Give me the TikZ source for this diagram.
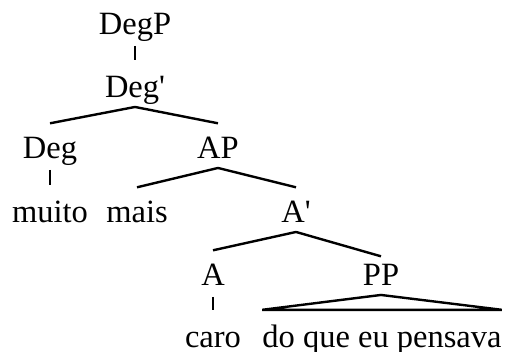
\documentclass[tikz,border=0pt]{standalone}
\usepackage{fontspec}
\setmainfont{Liberation Serif}
\begin{document}
\begin{tikzpicture}[
    x=1pt, y=-1pt,
    cat/.style={
        inner xsep=0pt,
        inner ysep=2pt,
        text height=32.5pt,
        text depth=7.75pt,
        anchor=base,
        font=\fontsize{32.5}{38}\selectfont
    },
    branch/.style={
        line width=2.4pt,
        black
    },
    unary/.style={
        line width=1.5pt,
        shorten <=2pt,
        shorten >=2pt
    }
]
\useasboundingbox (0,0) rectangle (505,351);

% Categories
\node[cat] (degp) at (135,34) {DegP};
\node[cat] (degbar) at (135,97) {Deg\textquotesingle};
\node[cat] (deg) at (50,158) {Deg};
\node[cat] (ap) at (218,158) {AP};
\node[cat] (abar) at (296,222) {A\textquotesingle};
\node[cat] (a) at (213,285) {A};
\node[cat] (pp) at (381,285) {PP};

% Words
\node[cat] (muito) at (50,222) {muito};
\node[cat] (mais) at (137,222) {mais};
\node[cat] (caro) at (213,347) {caro};
\node[cat] (rest) at (382,347) {do que eu pensava};

% Branches
\draw[unary] (degp.south) -- (degbar.north);
\draw[branch] (degbar.south) -- (deg.north);
\draw[branch] (degbar.south) -- (ap.north);
\draw[unary] (deg.south) -- (muito.north);
\draw[branch] (ap.south) -- (mais.north);
\draw[branch] (ap.south) -- (abar.north);
\draw[branch] (abar.south) -- (a.north);
\draw[branch] (abar.south) -- ([yshift=-6pt]pp.north);
\draw[unary] (a.south) -- (caro.north);
\draw[branch, line join=miter] (pp.south) -- ([yshift=2.5pt]rest.north west)
    -- ([yshift=2.5pt]rest.north east) -- cycle;

\end{tikzpicture}
\end{document}
